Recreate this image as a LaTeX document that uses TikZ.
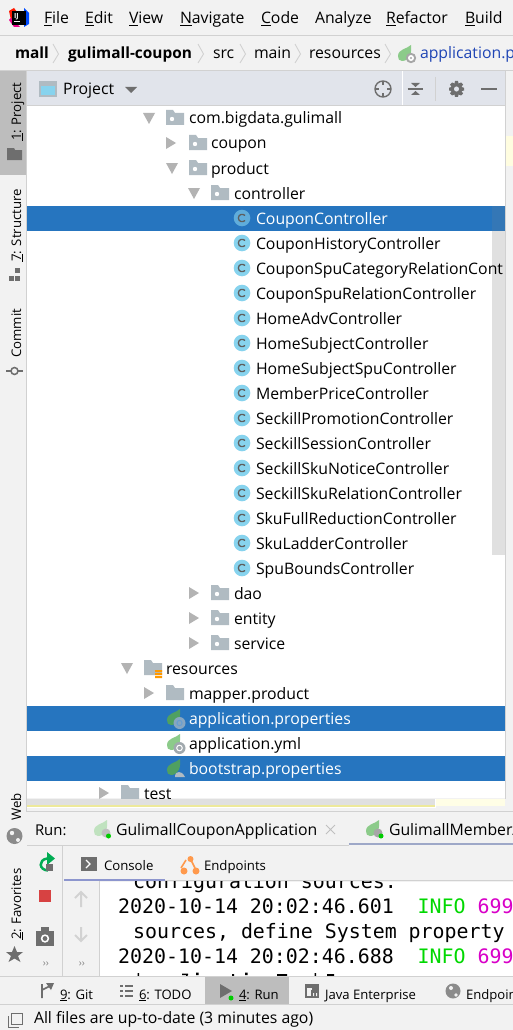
\documentclass[tikz,border=0pt]{standalone}
\usepackage{fontspec}
\setmainfont{Open Sans}
\newfontfamily\mono{DejaVu Sans Mono}
\usetikzlibrary{calc}
\definecolor{barbg}{HTML}{F2F2F2}
\definecolor{linecol}{HTML}{D1D1D1}
\definecolor{headbg}{HTML}{E1E4EB}
\definecolor{selblue}{HTML}{2675BF}
\definecolor{foldergrey}{HTML}{B0BBC2}
\definecolor{arrowgrey}{HTML}{B3B3B3}
\definecolor{icongrey}{HTML}{6E6E6E}
\definecolor{classblue}{HTML}{87D3EE}
\definecolor{leaf}{HTML}{8CCB8A}
\definecolor{leafdark}{HTML}{4FA060}
\definecolor{linkblue}{HTML}{1F45B5}
\definecolor{scrollgrey}{HTML}{E0E0E0}
\definecolor{tabsel}{HTML}{BDBDBD}
\definecolor{infogreen}{HTML}{00D800}
\definecolor{pidpink}{HTML}{D800C8}
\tikzset{
  txt/.style={anchor=base west,inner sep=0pt,outer sep=0pt,font=\fontsize{15.8}{18}\selectfont,text=black},
  small/.style={txt,font=\fontsize{13.1}{16}\selectfont},
  treetxt/.style={txt},
  seltxt/.style={txt,text=white},
  vert/.style={anchor=base west,inner sep=0pt,rotate=90,font=\fontsize{13.2}{16}\selectfont,text=black},
  mon/.style={anchor=base west,inner sep=0pt,font=\mono\fontsize{19.9}{22}\selectfont,text=black},
  crumb/.style={draw=linecol,line width=0.9pt},
}
\newcommand{\downtri}[2]{\fill[arrowgrey] (#1-6,#2-5) -- (#1+6,#2-5) -- (#1,#2+6) -- cycle;}
\newcommand{\righttri}[2]{\fill[arrowgrey] (#1-5,#2-6) -- (#1-5,#2+6) -- (#1+5,#2) -- cycle;}
\newcommand{\folder}[2]{\fill[foldergrey] (#1,#2-8) -- (#1+7,#2-8) -- (#1+9,#2-5) -- (#1+18,#2-5) -- (#1+18,#2+7) -- (#1,#2+7) -- cycle;}
\newcommand{\pkgfolder}[2]{\folder{#1}{#2}\fill[white] (#1+6,#2+1) circle (2.2);}
\newcommand{\classicon}[3]{\fill[#3] (#1,#2) circle (8.3);
  \draw[icongrey!85!black,line width=1.3pt] (#1+3,#2-2.5) .. controls (#1+1,#2-4.5) and (#1-3.6,#2-4) .. (#1-3.6,#2) .. controls (#1-3.6,#2+4) and (#1+1,#2+4.5) .. (#1+3,#2+2.5);}
\newcommand{\leaficon}[3]{\fill[#3] (#1-9,#2+2) .. controls (#1-9,#2-5) and (#1,#2-5) .. (#1+4,#2-9) .. controls (#1+5,#2-2) and (#1+3,#2+7) .. (#1-5,#2+7) .. controls (#1-8,#2+7) and (#1-9,#2+5) .. (#1-9,#2+2) -- cycle;}
\begin{document}
\begin{tikzpicture}[x=1pt,y=-1pt]
\useasboundingbox (0,0) rectangle (513,1030);
\fill[barbg] (0,0) rectangle (513,1030);
% --- menu bar
\fill[red!80!orange] (9,11) -- (14,8) -- (17,12) -- (11,20) -- cycle;
\fill[blue!70!cyan] (24,8) -- (29,13) -- (29,24) -- (24,27) -- cycle;
\fill[magenta] (9,20) -- (14,27) -- (20,27) -- (11,18) -- cycle;
\fill[black] (12,11) rectangle (26,25);
\fill[white] (14,21) rectangle (20,22.3);
\node[txt,text=white,font=\bfseries\fontsize{7}{8}\selectfont] (ij) at (14,19) {IJ};
\node[txt] (mfile) at (44,24) {\underline{F}ile};
\node[txt] (medit) at (85,24) {\underline{E}dit};
\node[txt] (mview) at (129,24) {\underline{V}iew};
\node[txt] (mnav) at (180,24) {\underline{N}avigate};
\node[txt] (mcode) at (261,24) {\underline{C}ode};
\node[txt] (mana) at (315,24) {Analyze};
\node[txt] (mref) at (386,24) {\underline{R}efactor};
\node[txt] (mbuild) at (465,24) {\underline{B}uild};
\draw[linecol,line width=1pt] (0,35.5) -- (513,35.5);
% --- breadcrumb
\node[txt,font=\bfseries\fontsize{15.4}{18}\selectfont] (bmall) at (15,59) {mall};
\node[txt,font=\bfseries\fontsize{15.4}{18}\selectfont] (bmod) at (68,59) {gulimall-coupon};
\node[txt] (bsrc) at (213,59) {src};
\node[txt] (bmain) at (254,59) {main};
\node[txt] (bres) at (309,59) {resources};
\node[txt,text=linkblue] (bapp) at (420,59) {application.p};
\foreach \cx in {53,198,240,295,385}{\draw[crumb] (\cx,44) -- (\cx+5.5,54) -- (\cx,63);}
\leaficon{407}{54}{leaf}
\fill[gray!70] (411,58) circle (5.2); \fill[white] (411,58) circle (3); \fill[gray!70] (411,58) circle (1.2);
\draw[linecol,line width=1pt] (0,71) -- (513,71);
% --- left strip
\fill[tabsel] (0,71) rectangle (26,175);
\draw[linecol,line width=1pt] (26.5,71) -- (26.5,812);
\node[vert] (vproj) at (21,141) {\underline{1}: Project};
\fill[icongrey] (7,148) -- (14,148) -- (15,150) -- (22,150) -- (22,160) -- (7,160) -- cycle;
\node[vert] (vstruct) at (21,262) {\underline{7}: Structure};
\fill[icongrey] (15,268) rectangle (20,273);\fill[icongrey] (9,276) rectangle (14,281);\fill[icongrey] (15,276) rectangle (20,281);
\node[vert] (vcommit) at (21,358) {Commit};
\draw[icongrey,line width=1.3pt] (6,371) -- (11,371) (18,371) -- (23,371); \draw[icongrey,line width=1.5pt] (14.5,371) circle (3.5);
\node[vert] (vweb) at (21,821) {Web};
\fill[icongrey!80] (14.5,836) circle (8); \fill[barbg] (12,833) circle (2.2); \fill[barbg] (18,840) circle (2);
\node[vert] (vfav) at (21,940) {\underline{2}: Favorites};
\fill[icongrey] (14.5,946) -- (17,952) -- (23,952) -- (18,956) -- (20.5,962) -- (14.5,958.5) -- (8.5,962) -- (11,956) -- (6,952) -- (12,952) -- cycle;
% --- project header
\fill[headbg] (27,71.5) rectangle (505,105);
\draw[linecol,line width=1pt] (27,105.5) -- (505,105.5);
\draw[white,line width=1pt] (402.5,71.5) -- (402.5,105.5);
\fill[foldergrey] (39,81) rectangle (57,97);
\fill[classblue] (41,86) rectangle (55,95);
\node[txt] (hproj) at (63,95) {Project};
\fill[icongrey] (125,87) -- (137,87) -- (131,93) -- cycle;
\draw[icongrey,line width=1.4pt] (383,89) circle (8);
\draw[icongrey,line width=1.4pt] (375,89) -- (379,89) (387,89) -- (391,89) (383,81) -- (383,85) (383,93) -- (383,97);
\draw[icongrey,line width=1.4pt] (407.5,89) -- (423,89);
\fill[icongrey] (411,83) -- (420,83) -- (415.5,87) -- cycle;
\fill[icongrey] (411,95) -- (420,95) -- (415.5,91) -- cycle;
\draw[linecol,line width=1pt] (435.5,77) -- (435.5,101);
\fill[icongrey,even odd rule] (455,81) -- (458,81) -- (458.5,83.5) -- (461,82.5) -- (463,84.5) -- (461.5,87) -- (464,87.8) -- (464,90.5) -- (461.5,91) -- (463,93.5) -- (461,95.5) -- (458.5,94.5) -- (458,97) -- (455,97) -- (454.5,94.5) -- (452,95.5) -- (450,93.5) -- (451.5,91) -- (449,90.5) -- (449,87.8) -- (451.5,87) -- (450,84.5) -- (452,82.5) -- (454.5,83.5) -- cycle (456.5,89) circle (2.7);
\fill[icongrey] (481,87.8) rectangle (497,90.2);
% --- tree
\fill[white] (27,106) rectangle (505,798);
\draw[linecol,line width=1pt] (505.5,71) -- (505.5,812);
\fill[yellow!12] (506,136) rectangle (513,166);
\fill[selblue] (27,206) rectangle (505,231);
\fill[selblue] (27,706) rectangle (505,731);
\fill[selblue] (27,756) rectangle (505,781);
\fill[scrollgrey] (492,231) rectangle (505,555);
\fill[selblue!85!gray] (492,206) rectangle (505,231);
\draw[white,line width=1pt] (492,555) -- (505,555);
\downtri{149}{118}\pkgfolder{166}{118}
\node[treetxt] (t1) at (189,124) {com.bigdata.gulimall};
\righttri{171}{143}\pkgfolder{189}{143}
\node[treetxt] (t2) at (211,149) {coupon};
\downtri{172}{168}\pkgfolder{189}{168}
\node[treetxt] (t3) at (211,174) {product};
\downtri{194}{193}\pkgfolder{211}{193}
\node[treetxt] (t4) at (234,199) {controller};
\classicon{242}{218}{classblue!60!selblue}
\node[seltxt] (c1) at (256,224) {CouponController};
\foreach \yy/\nm in {243/CouponHistoryController,268/CouponSpuCategoryRelationCont,293/CouponSpuRelationController,318/HomeAdvController,343/HomeSubjectController,368/HomeSubjectSpuController,393/MemberPriceController,418/SeckillPromotionController,443/SeckillSessionController,468/SeckillSkuNoticeController,493/SeckillSkuRelationController,518/SkuFullReductionController,543/SkuLadderController,568/SpuBoundsController}{
  \classicon{242}{\yy}{classblue}
  \node[treetxt] (n\yy) at (256,\yy+6) {\nm};
}
\righttri{194}{593}\pkgfolder{211}{593}
\node[treetxt] (t5) at (234,599) {dao};
\righttri{194}{618}\pkgfolder{211}{618}
\node[treetxt] (t6) at (234,624) {entity};
\righttri{194}{643}\pkgfolder{211}{643}
\node[treetxt] (t7) at (234,649) {service};
\downtri{127}{668}\folder{144}{668}
\fill[orange!80!yellow] (155,670) rectangle (162,672) (155,673) rectangle (162,675) (155,676) rectangle (162,678);
\node[treetxt] (t8) at (166,674) {resources};
\righttri{149}{693}\folder{166}{693}
\node[treetxt] (t9) at (189,699) {mapper.product};
\leaficon{176}{718}{leafdark}
\fill[foldergrey!70!selblue] (179.5,723) circle (6); \draw[selblue!70!white,line width=1pt] (179.5,723) circle (2.6);
\node[seltxt] (t10) at (189,724) {application.properties};
\leaficon{176}{743}{leaf}
\fill[foldergrey!70!gray] (179.5,748) circle (6); \draw[white,line width=1pt] (179.5,748) circle (2.8);
\node[treetxt] (t11) at (189,749) {application.yml};
\leaficon{176}{768}{leafdark}
\fill[foldergrey] (175,777) .. controls (175,773) and (177,772) .. (179,772) .. controls (181,772) and (183,773) .. (185,777) -- cycle;
\node[seltxt] (t12) at (189,774) {bootstrap.properties};
\righttri{104}{793}\folder{121}{793}
\node[treetxt] (t13) at (144,799) {test};
% horizontal scrollbar
\fill[barbg] (27,799) rectangle (513,811);
\fill[yellow!10] (435,799) rectangle (505,806);
\fill[scrollgrey] (27,799) rectangle (435,808);
\draw[white,line width=1pt] (27,807.5) -- (435,807.5) -- (435,799);
\fill[yellow!35!scrollgrey] (27,805) rectangle (435,807);
\draw[linecol,line width=1pt] (27,811.5) -- (513,811.5);
% --- run panel
\node[txt,font=\fontsize{14.9}{17}\selectfont] (rrun) at (35,835) {Run:};
\leaficon{103}{829}{leaf!55!white}
\fill[gray!50] (106,833) circle (4.5); \fill[green!80!black] (108.5,836) circle (2.5);
\node[txt] (rt1) at (116,835) {GulimallCouponApplication};
\draw[gray!50,line width=1pt] (326,825) -- (335,834) (335,825) -- (326,834);
\leaficon{375}{829}{leaf}
\fill[gray!70] (378,833) circle (4.5); \fill[green!80!black] (381,836) circle (2.5);
\node[txt] (rt2) at (389,835) {GulimallMemberA};
\fill[foldergrey!90!blue] (349,843) rectangle (513,845);
\draw[linecol,line width=1pt] (27,845.5) -- (349,845.5);
\draw[linecol,line width=1pt] (62.5,846) -- (62.5,977);
\draw[linecol,line width=1pt] (99.5,881) -- (99.5,977);
% run actions
\draw[teal!65!green,line width=2.5pt] (48,870.5) .. controls (39,870) and (38,860) .. (47,858.5) -- (49,858.5);
\fill[teal!65!green] (47,852) -- (55,858.5) -- (47,865) -- cycle;
\fill[icongrey] (46,864) rectangle (53,871);
\fill[red!65!gray!90!white] (39,890) rectangle (51,902);
\fill[icongrey] (36,931) rectangle (54,946); \fill[icongrey] (41,927) rectangle (49,932);
\fill[white] (45,938.5) circle (4.2); \fill[icongrey] (45,938.5) circle (2.4);
\node[anchor=center,inner sep=0pt,text=gray,font=\fontsize{10}{10}\selectfont] (mm1) at (46,964) {››};
\node[anchor=center,inner sep=0pt,text=gray,font=\fontsize{10}{10}\selectfont] (mm2) at (82,964) {››};
% console tabs
\fill[icongrey] (81,857) rectangle (97,871);
\draw[white,line width=1.3pt] (86,860) -- (90,864) -- (86,868);
\node[txt,font=\fontsize{13.2}{16}\selectfont] (ctab) at (104,870) {Console};
\draw[orange!60!pink,line width=1.6pt] (186,860) -- (181,868) (191,860) -- (195,868);
\fill[orange!60!pink] (190.5,859) circle (3) (184,871) circle (3.5) (196,871) circle (3.5);
\node[txt,font=\fontsize{13.2}{16}\selectfont] (etab) at (204,870) {Endpoints};
\fill[foldergrey!80!blue] (64,879) rectangle (165,881);
\draw[linecol,line width=1pt] (165,880.5) -- (513,880.5);
% gutter arrows
\draw[gray!35,line width=2pt] (81,892) -- (81,907) (75,898) -- (81,892) -- (87,898);
\draw[gray!35,line width=2pt] (81,927) -- (81,941) (75,935) -- (81,941) -- (87,935);
% console
\fill[white] (100,881.5) rectangle (513,976);
\begin{scope}
\clip (100,881.5) rectangle (513,976);
\node[mon] (l0) at (133,888) {configuration sources.};
\node[mon] (l1) at (118,913) {2020-10-14 20:02:46.601~~\textcolor{infogreen}{INFO}~\textcolor{pidpink}{699}};
\node[mon] (l2) at (133,938) {sources, define System property};
\node[mon] (l3) at (118,963) {2020-10-14 20:02:46.688~~\textcolor{infogreen}{INFO}~\textcolor{pidpink}{699}};
\end{scope}
% glyph tops of the row that the panel cuts off
\fill[black] (137.5,973) rectangle (139,976) (182,973.5) rectangle (188,975) (186,973.5) rectangle (187.5,976) (196,972.5) rectangle (198.5,975) (232,974) rectangle (234,976) (245,972.5) rectangle (247.5,975) (277,974) rectangle (287,976) (314.5,973) rectangle (316,976) (327,974) rectangle (334,976);
% --- bottom bar
\draw[linecol,line width=1pt] (0,976.5) -- (513,976.5);
\fill[tabsel] (205,977) rectangle (289,1004);
\draw[linecol,line width=1pt] (0,1004.5) -- (513,1004.5);
\draw[icongrey,line width=1.6pt] (42,998) -- (42,984) (42,990) -- (50,986); \fill[icongrey] (46,983) -- (54,983) -- (51,990) -- cycle;
\node[small] (bgit) at (60,999) {\underline{9}: Git};
\foreach \yy in {986,991,996}{\fill[icongrey] (120,\yy-1) rectangle (123,\yy+1); \fill[icongrey] (125,\yy-1) rectangle (133,\yy+1);}
\node[small] (btodo) at (139,999) {\underline{6}: TODO};
\fill[icongrey] (220,984) -- (220,998) -- (232,991) -- cycle; \fill[green!80!black] (231,998) circle (2.5);
\node[small] (brun) at (239,999) {\underline{4}: Run};
\fill[icongrey] (305,984) rectangle (319,998); \fill[barbg] (307,988) rectangle (312,996); \fill[icongrey] (311,990) rectangle (319,998); \fill[barbg] (313,993) rectangle (314.2,996) (316,993) rectangle (317.2,996);
\node[small] (bjava) at (325,999) {Java Enterprise};
\fill[icongrey!80] (453,991) circle (7.5); \fill[barbg] (451,988) circle (2); \fill[barbg] (456,995) circle (1.8);
\node[small] (bend) at (466,999) {Endpoin};
% --- status
\draw[icongrey,line width=1pt] (11,1013) rectangle (22,1024);
\draw[icongrey,line width=1pt] (8,1016) -- (8,1027) -- (19,1027);
\node[txt] (status) at (34,1023) {All files are up-to-date (3 minutes ago)};
\end{tikzpicture}
\end{document}
